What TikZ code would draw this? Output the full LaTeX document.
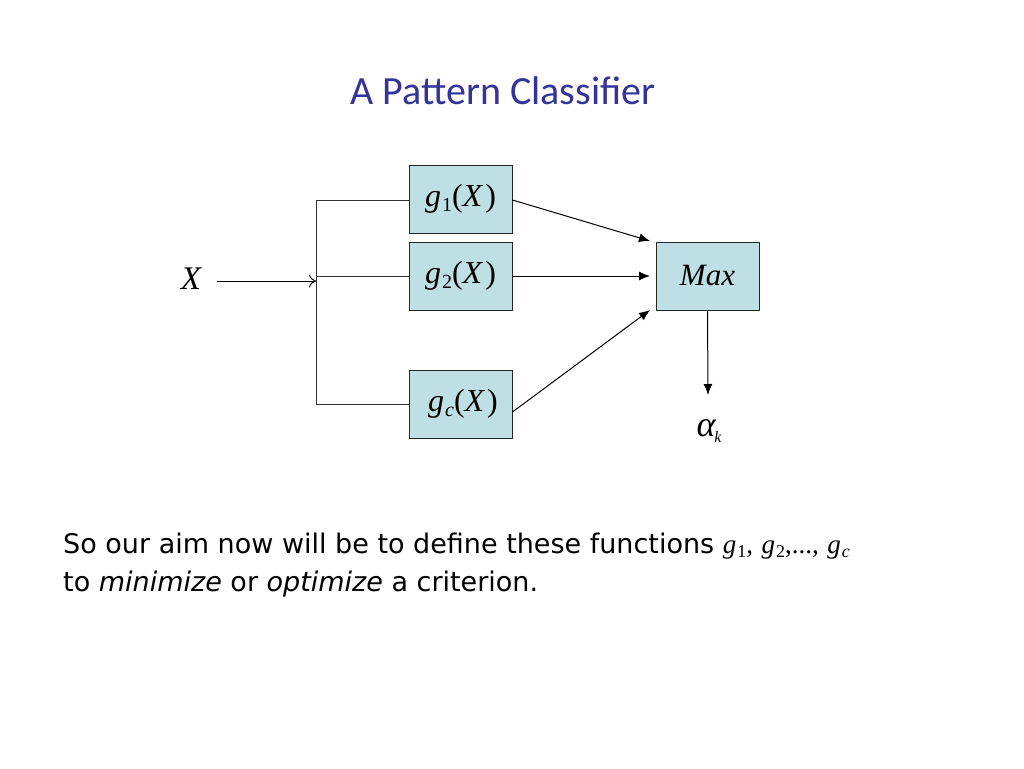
\documentclass[tikz,border=0pt]{standalone}
\usepackage{fontspec}
\setmainfont{DejaVu Sans}
\newfontfamily\tms{Liberation Serif}
\newfontfamily\titlefont{Carlito}
\usetikzlibrary{arrows.meta}
\definecolor{boxfill}{HTML}{BEDFE3}
\definecolor{titleblue}{HTML}{333399}
\newcommand{\gsub}[2]{{\tms\itshape g}\kern1pt\raisebox{-0.3ex}{\tms\fontsize{#2}{#2}\selectfont #1}}
\newcommand{\gofx}[1]{\gsub{#1}{20}{\tms(}{\tms\itshape X}\kern3pt{\tms)}}
\tikzset{
  fbox/.style={draw=black!85, fill=boxfill, line width=0.9pt, minimum width=103pt, minimum height=68pt, inner sep=0pt, font=\fontsize{32}{32}\selectfont},
  wire/.style={draw=black!80, line width=0.9pt},
  arr/.style={draw=black, line width=1pt, -{Latex[length=11pt,width=9pt]}},
}
\begin{document}
\begin{tikzpicture}[x=1pt,y=-1pt]
\useasboundingbox (0,0) rectangle (1024,768);
\fill[white] (0,0) rectangle (1024,768);
\node[text=titleblue, font=\titlefont\fontsize{40}{40}\selectfont] (title) at (503,91) {A Pattern Classifier};

\node[fbox] (g1) at (460.5,199) {\gofx{1}};
\node[fbox] (g2) at (460.5,276) {\gofx{2}};
\node[fbox] (gc) at (460.5,404) {\kern5pt\gofx{\itshape c}};
\node[fbox, font=\tms\itshape\fontsize{31}{31}\selectfont] (max) at (707.5,276) {Max};

\node[font=\tms\itshape\fontsize{33}{33}\selectfont] (x) at (191,279) {X};
\coordinate (bus) at (316,281);
\draw[line width=1pt, -{To[length=7pt,width=13pt]}] (217,281) -- (bus);
\draw[wire] (409,200) -- (316,200) -- (316,404) -- (409,404);
\draw[wire] (316,276) -- (409,276);

\draw[arr] (g1.east |- 0,200) -- (650,241);
\draw[arr] (g2.east) -- (650,276);
\draw[arr] (gc.east |- 0,412) -- (650,310);
\node[font=\tms\itshape\fontsize{36}{36}\selectfont] (alpha) at (709,431) {α\kern-1pt\raisebox{-0.35ex}{\fontsize{16}{16}\selectfont k}};
\draw[arr] (max.south) -- (708,395);

\node[anchor=base west, font=\fontsize{27}{27}\selectfont, inner sep=0pt] (l1) at (63,553) {So our aim now will be to define these functions \gsub{1}{18}{\tms,} \gsub{2}{18}{\tms,...,} \gsub{\itshape c}{18}};
\node[anchor=base west, font=\fontsize{27}{27}\selectfont, inner sep=0pt] (l2) at (63,591) {to \textit{minimize} or \textit{optimize} a criterion.};
\end{tikzpicture}
\end{document}
